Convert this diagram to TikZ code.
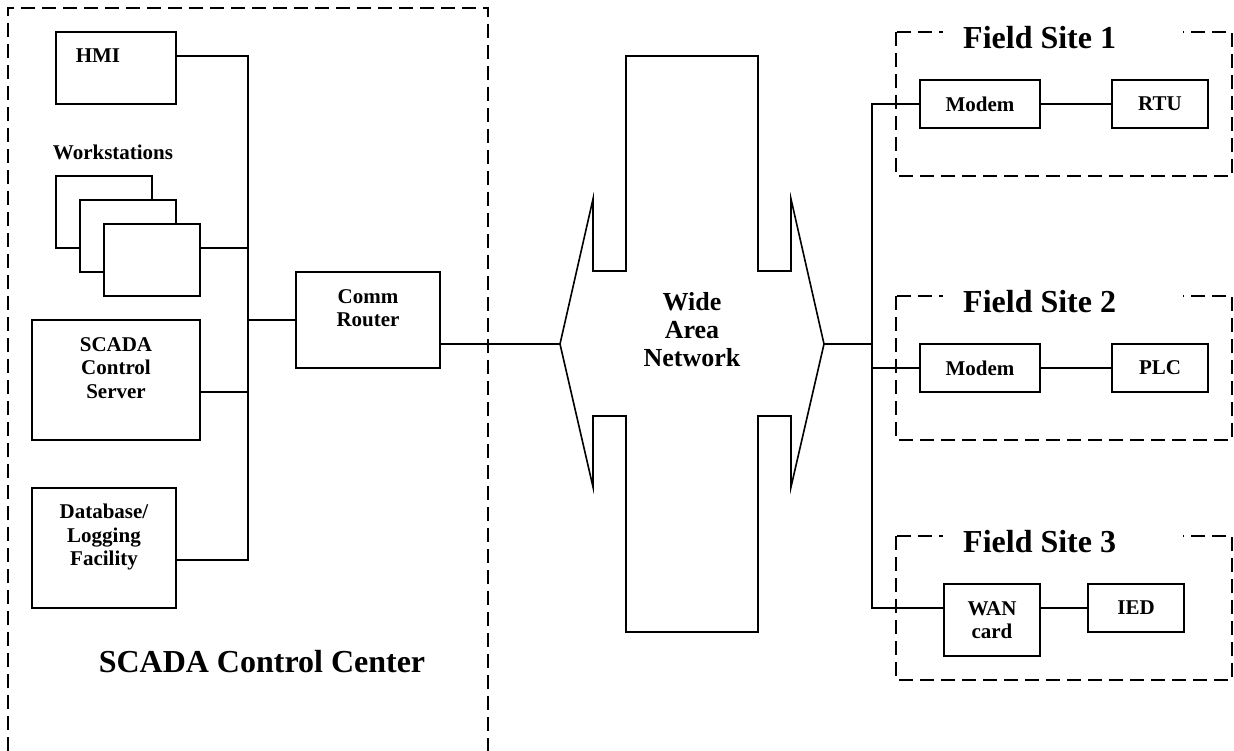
\documentclass[tikz,border=0pt]{standalone}
\usepackage{fontspec}
\setmainfont{Liberation Serif}
\usetikzlibrary{calc}
\tikzset{
  wire/.style={line width=1.6pt, line join=miter},
  zone/.style={line width=1.6pt, dash pattern=on 14pt off 7pt},
  lbl/.style={font=\fontsize{21}{23.5}\selectfont\bfseries, align=center, inner sep=0pt},
  box/.style={lbl, draw, line width=1.6pt, fill=white},
  wanlbl/.style={font=\fontsize{26}{28}\selectfont\bfseries, align=center, inner sep=0pt},
  bigtitle/.style={font=\fontsize{32}{36}\selectfont\bfseries, inner sep=0pt},
  sitetitle/.style={font=\fontsize{32}{36}\selectfont\bfseries, fill=white, anchor=west,
                    text width=200pt, align=flush left, inner xsep=20pt, inner ysep=2pt},
}

\begin{document}
\begin{tikzpicture}[x=1pt, y=-1pt]
\useasboundingbox (0,0) rectangle (1234,751);

% control center
\draw[zone] (8,751) -- (8,8) -- (488,8) -- (488,751);
\node[box, minimum width=120pt, minimum height=72pt] (hmi) at (116,68) {};
\node[lbl] (hmitxt) at (98,56) {HMI};
\node[lbl] (wstxt) at (113,152) {Workstations};
\foreach \i/\x/\y in {1/104/212, 2/128/236, 3/152/260}
  \node[box, minimum width=96pt, minimum height=72pt] (ws\i) at (\x,\y) {};
\node[box, minimum width=168pt, minimum height=120pt] (srv) at (116,380) {};
\node[lbl] (srvtxt) at (116,368) {SCADA\\Control\\Server};
\node[box, minimum width=144pt, minimum height=120pt] (db) at (104,548) {};
\node[lbl] (dbtxt) at (104,537) {Database/\\Logging\\Facility};
\node[box, minimum width=144pt, minimum height=96pt] (rtr) at (368,320) {};
\node[lbl] (rtrtxt) at (368,308) {Comm\\Router};
\node[bigtitle] (cctitle) at (262,662) {SCADA Control Center};

\coordinate (bustop) at (248,56);
\coordinate (busbot) at (248,560);
\draw[wire] ([yshift=12pt]hmi.east) -- (bustop) -- (busbot) -- ([yshift=-12pt]db.east);
\draw[wire] ([yshift=12pt]ws3.east) -| (bustop);
\draw[wire] ([yshift=-12pt]srv.east) -| (bustop);
\draw[wire] (rtr.west) -| (bustop);

% wide area network
\coordinate (wanl) at (560,344);
\coordinate (wanr) at (824,344);
\draw[wire] (626,56) -- (758,56) -- (758,271) -- (791,271) -- (791,199) -- (wanr)
  -- (791,487) -- (791,416) -- (758,416) -- (758,632) -- (626,632) -- (626,416)
  -- (593,416) -- (593,487) -- (wanl) -- (593,199) -- (593,271) -- (626,271) -- cycle;
\node[wanlbl] (wan) at (692,330) {Wide\\Area\\Network};
\draw[wire] (rtr.east |- wanl) -- (wanl);

% field sites
\foreach \n/\y in {1/32, 2/296, 3/536} {
  \draw[zone] (896,\y) rectangle (1232,\y+144);
  \node[sitetitle] (site\n) at (943,\y+6) {Field Site \n};
}
\node[box, minimum width=120pt, minimum height=48pt] (modem1) at (980,104) {Modem};
\node[box, minimum width=96pt, minimum height=48pt] (rtu) at (1160,104) {RTU};
\node[box, minimum width=120pt, minimum height=48pt] (modem2) at (980,368) {Modem};
\node[box, minimum width=96pt, minimum height=48pt] (plc) at (1160,368) {PLC};
\node[box, minimum width=96pt, minimum height=72pt] (wancard) at (992,620) {WAN\\card};
\node[box, minimum width=96pt, minimum height=48pt] (ied) at (1136,608) {IED};

\coordinate (fbus) at (872,344);
\draw[wire] (wanr) -- (fbus);
\draw[wire] (modem1.west) -- (modem1.west -| fbus) -- (fbus |- ied.west) -- (ied.west -| wancard.west);
\draw[wire] (modem2.west) -- (modem2.west -| fbus);
\draw[wire] (modem1) -- (rtu);
\draw[wire] (modem2) -- (plc);
\draw[wire] (ied.west) -- (ied.west -| wancard.east);

\end{tikzpicture}
\end{document}
